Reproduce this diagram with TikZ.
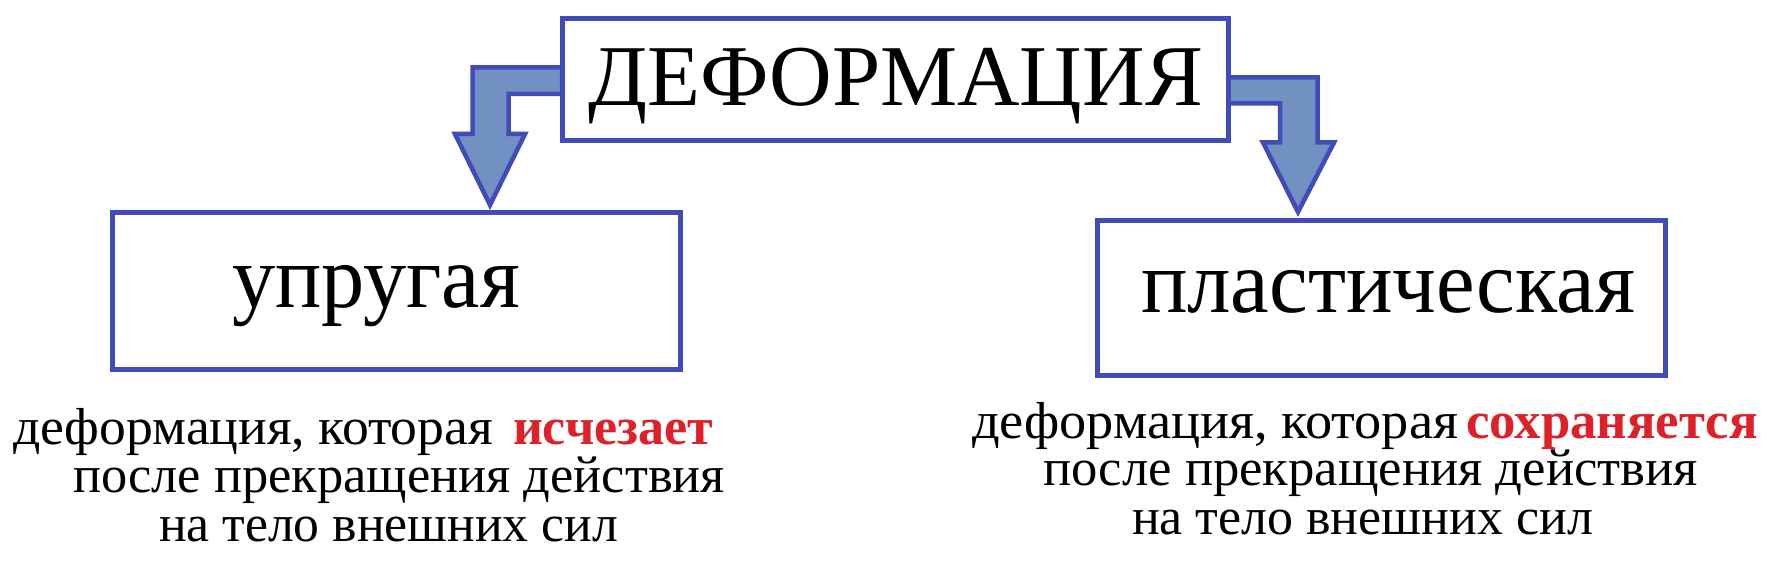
\documentclass[tikz,border=0pt]{standalone}
\usepackage{fontspec}
\setmainfont{Liberation Serif}
\newdimen\pxu \pxu=0.75pt
\definecolor{bordblue}{RGB}{66,76,184}
\definecolor{arrfill}{RGB}{112,145,194}
\definecolor{redword}{RGB}{222,32,40}
\newcommand{\fitw}[2]{\resizebox{#1\pxu}{\height}{#2}}
\begin{document}
\begin{tikzpicture}[x=0.75pt,y=-0.75pt,
  boxst/.style={draw=bordblue, line width=5\pxu, fill=white, inner sep=0pt},
  arrowst/.style={draw=bordblue, line width=4.5\pxu, fill=arrfill, line join=miter},
  txt/.style={anchor=base west, inner sep=0pt, outer sep=0pt, font=\fontsize{39}{47}\selectfont},
  bigtxt/.style={anchor=base west, inner sep=0pt, outer sep=0pt, font=\fontsize{65}{78}\selectfont},
  boxtxt/.style={anchor=base west, inner sep=0pt, outer sep=0pt, font=\fontsize{67}{80}\selectfont},
  redtxt/.style={txt, font=\fontsize{39}{47}\selectfont\bfseries, text=redword}]
\useasboundingbox[fill=white] (0,0) rectangle (1781,580);
% block arrows
\draw[arrowst] (562,67.5) -- (472.5,67.5) -- (472.5,134) -- (455,134) -- (490,205) -- (525,134) -- (508.5,134) -- (508.5,94) -- (562,94) -- cycle;
\draw[arrowst] (1228,77.5) -- (1317.5,77.5) -- (1317.5,142.5) -- (1334,142.5) -- (1298,212) -- (1263,142.5) -- (1280,142.5) -- (1280,103.5) -- (1228,103.5) -- cycle;
% boxes
\node[boxst, minimum width=666\pxu, minimum height=122\pxu] (top) at (895,80) {};
\node[boxst, minimum width=568\pxu, minimum height=156.5\pxu] (elastic) at (396.5,291) {};
\node[boxst, minimum width=568\pxu, minimum height=155.5\pxu] (plastic) at (1381.5,298) {};
% box texts
\node[bigtxt] (title) at (588,106) {\fitw{615}{ДЕФОРМАЦИЯ}};
\node[boxtxt] (elastictxt) at (232,308) {\fitw{288}{упругая}};
\node[boxtxt] (plastictxt) at (1141,313) {\fitw{494}{пластическая}};
% left description
\node[txt] (ldefa) at (13,445) {\fitw{480}{деформация, которая}};
\node[redtxt] (ldefb) at (513,445) {\fitw{200}{исчезает}};
\node[txt] (ldefc) at (73,493) {\fitw{652}{после прекращения действия}};
\node[txt] (ldefd) at (159,541) {\fitw{459}{на тело внешних сил}};
% right description
\node[txt] (rdefa) at (972,439) {\fitw{486}{деформация, которая}};
\node[redtxt] (rdefb) at (1466,439) {\fitw{292}{сохраняется}};
\node[txt] (rdefc) at (1043,486) {\fitw{655}{после прекращения действия}};
\node[txt] (rdefd) at (1132,534) {\fitw{461}{на тело внешних сил}};
\end{tikzpicture}
\end{document}
